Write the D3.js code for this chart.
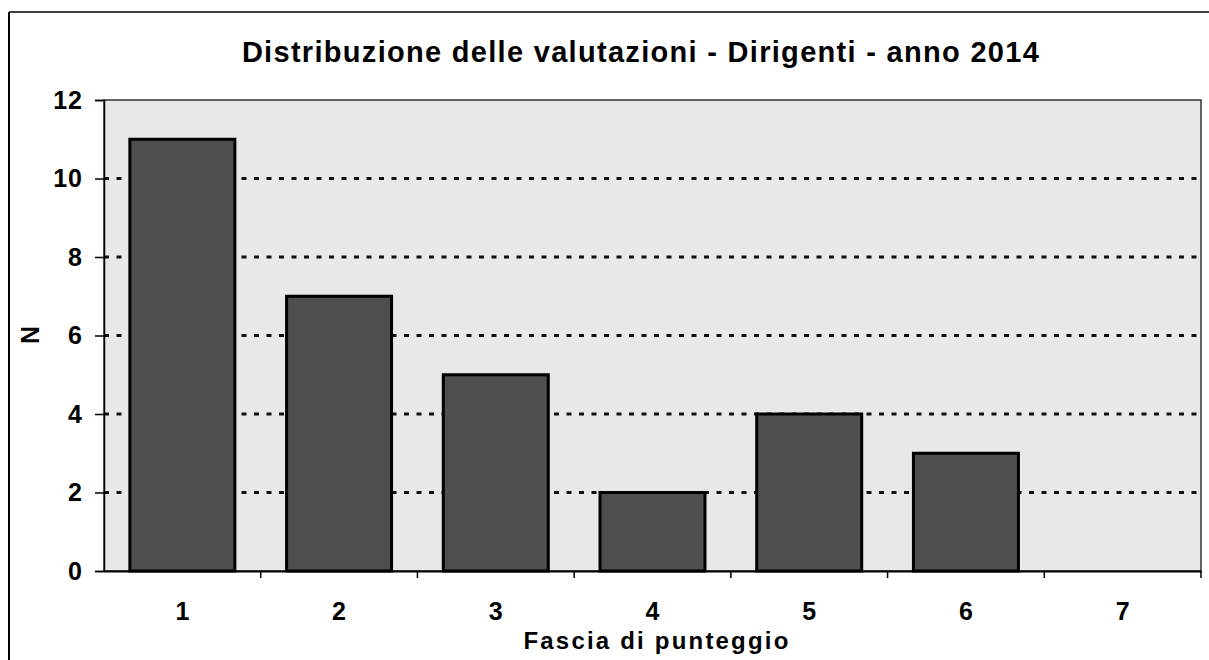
<!DOCTYPE html>
<html><head><meta charset="utf-8">
<script src="https://cdn.jsdelivr.net/npm/d3@7"></script>
<style>body{margin:0;background:#fff}svg{display:block}text{font-family:"Liberation Sans",Arial,sans-serif}</style>
</head><body>
<script>
const categories = ["1","2","3","4","5","6","7"];
const values = [11,7,5,2,4,3,0];
const yTicks = [0,2,4,6,8,10,12];
const title = "Distribuzione delle valutazioni - Dirigenti - anno 2014";
const xTitle = "Fascia di punteggio";
const yTitle = "N";

const W=1209,H=660;
const m={left:104,right:8,top:100,bottom:89};
const svg=d3.select("body").append("svg").attr("width",W).attr("height",H);
svg.append("line").attr("x1",9).attr("x2",1209).attr("y1",12).attr("y2",12).attr("stroke","#000").attr("stroke-width",1.5);
svg.append("line").attr("x1",9).attr("x2",9).attr("y1",12).attr("y2",660).attr("stroke","#000").attr("stroke-width",2);

const x=d3.scaleBand().domain(categories).range([m.left,W-m.right]).paddingInner(0.33).paddingOuter(0.165);
const xb=d3.scaleBand().domain(categories).range([m.left,W-m.right]);
const y=d3.scaleLinear().domain([0,12]).range([H-m.bottom,m.top]);

svg.append("rect").attr("x",m.left).attr("y",m.top).attr("width",W-m.right-m.left).attr("height",H-m.bottom-m.top)
  .attr("fill","#e8e8e8").attr("stroke","#333").attr("stroke-width",1.5);

svg.append("g").selectAll("line").data(yTicks.filter(t=>t>0&&t<12)).join("line")
  .attr("x1",m.left).attr("x2",W-m.right).attr("y1",d=>y(d)).attr("y2",d=>y(d))
  .attr("stroke","#111").attr("stroke-width",3).attr("stroke-dasharray","5,7.5");

svg.append("g").selectAll("rect").data(values).join("rect")
  .attr("x",(d,i)=>x(categories[i])).attr("width",x.bandwidth())
  .attr("y",d=>y(d)).attr("height",d=>y(0)-y(d))
  .attr("fill","#4e4e4e").attr("stroke","#000").attr("stroke-width",3);

const ya=svg.append("g").attr("transform",`translate(${m.left},0)`).call(d3.axisLeft(y).tickValues(yTicks).tickSize(9).tickPadding(12));
ya.select(".domain").attr("stroke","#000").attr("stroke-width",1.5);
ya.selectAll(".tick line").attr("stroke-width",1.5);
ya.selectAll("text").style("font-size","25px").style("font-weight","bold").attr("fill","#000").attr("letter-spacing",1);
const xa=svg.append("g").attr("transform",`translate(0,${H-m.bottom})`).call(d3.axisBottom(xb).tickSize(0).tickPadding(31));
xa.select(".domain").attr("stroke","#000").attr("stroke-width",2);
xa.selectAll("text").style("font-size","25px").style("font-weight","bold").attr("fill","#000");
svg.append("g").selectAll("line").data(categories).join("line")
  .attr("x1",d=>xb(d)+xb.bandwidth()).attr("x2",d=>xb(d)+xb.bandwidth())
  .attr("y1",H-m.bottom).attr("y2",H-m.bottom+7).attr("stroke","#000").attr("stroke-width",1.5);

svg.append("text").attr("x",641).attr("y",62).attr("text-anchor","middle").style("font-size","29px").style("font-weight","bold").attr("letter-spacing",1.3).text(title);
svg.append("text").attr("x",657).attr("y",649).attr("text-anchor","middle").style("font-size","24px").style("font-weight","bold").attr("letter-spacing",2.2).text(xTitle);
svg.append("text").attr("transform","translate(39,335) rotate(-90)").attr("text-anchor","middle").style("font-size","25px").style("font-weight","bold").text(yTitle);
</script>
</body></html>
